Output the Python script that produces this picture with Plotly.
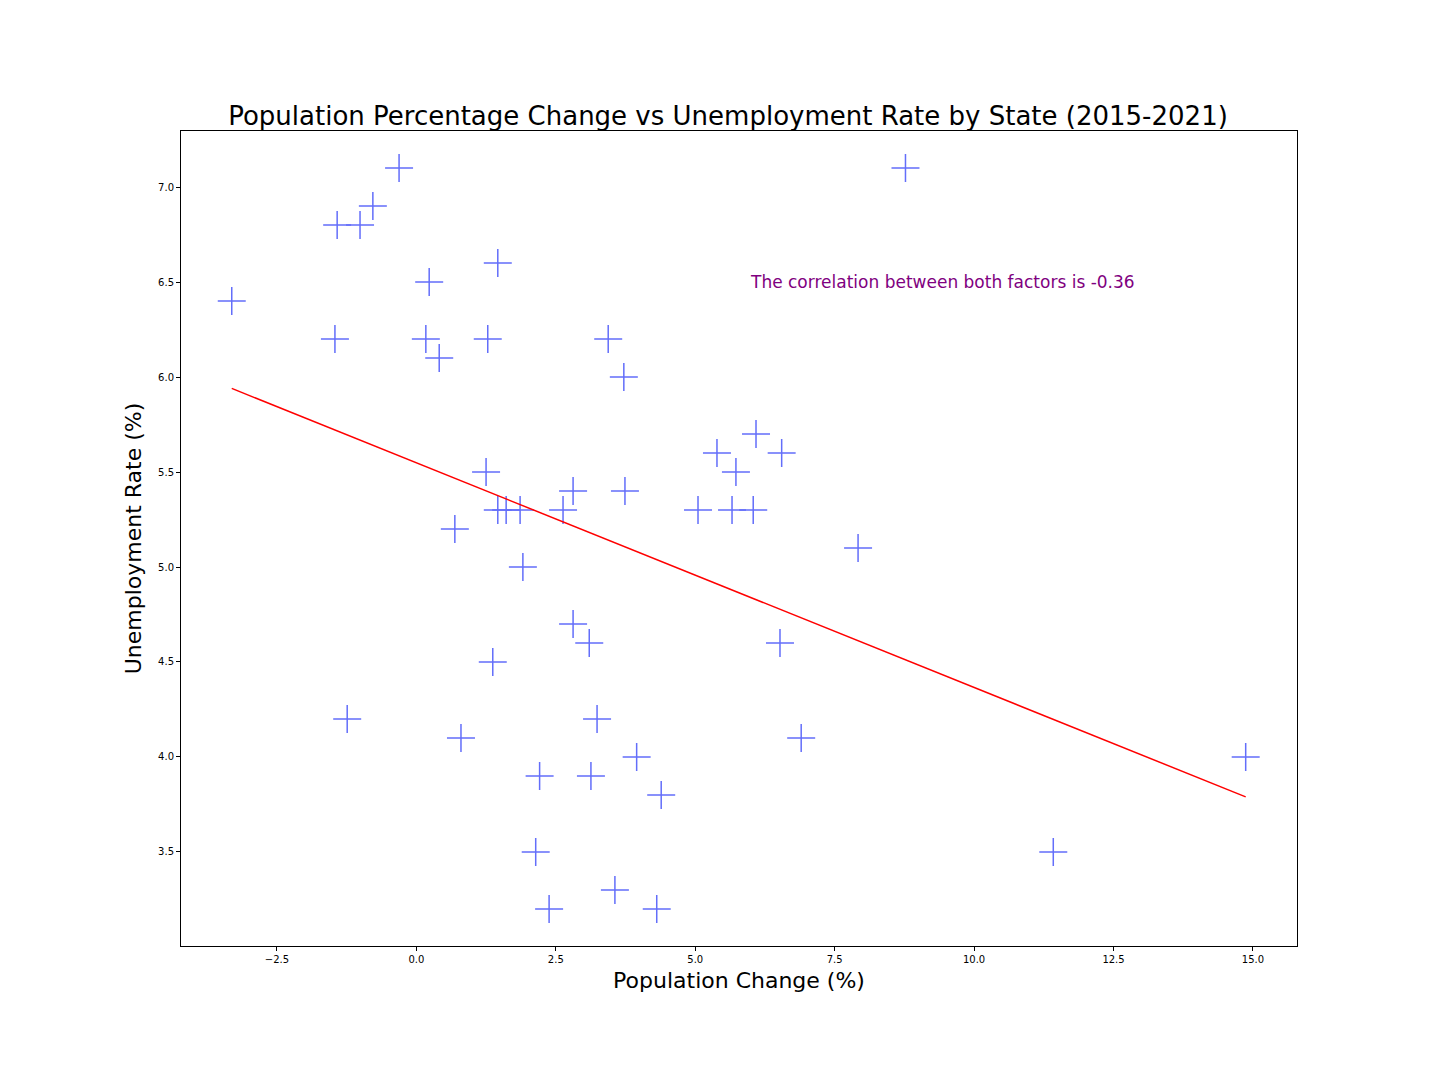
import plotly.graph_objects as go

# population change (%) and unemployment rate (%) by state
pop_change = [-3.31, -0.31, -0.78, -1.42, -1.01, 1.46, 0.23, -1.46, 0.17, 1.28,
              0.41, 3.44, 3.72, 6.09, 5.39, 6.55, 5.73, 1.25, 2.81, 3.74,
              1.46, 1.61, 1.86, 2.63, 5.05, 5.66, 6.04, 0.69, 7.92, 1.91,
              8.77, 2.81, 3.10, 6.52, 1.37, -1.24, 3.24, 0.80, 6.90, 3.95,
              14.87, 2.21, 3.13, 4.39, 2.14, 11.42, 3.56, 2.38, 4.31]
unemployment = [6.4, 7.1, 6.9, 6.8, 6.8, 6.6, 6.5, 6.2, 6.2, 6.2,
                6.1, 6.2, 6.0, 5.7, 5.6, 5.6, 5.5, 5.5, 5.4, 5.4,
                5.3, 5.3, 5.3, 5.3, 5.3, 5.3, 5.3, 5.2, 5.1, 5.0,
                7.1, 4.7, 4.6, 4.6, 4.5, 4.2, 4.2, 4.1, 4.1, 4.0,
                4.0, 3.9, 3.9, 3.8, 3.5, 3.5, 3.3, 3.2, 3.2]

# regression line endpoints
trend_x = [-3.31, 14.87]
trend_y = [5.94, 3.79]

fig = go.Figure()

fig.add_trace(go.Scatter(
    x=pop_change, y=unemployment, mode="markers",
    marker=dict(symbol="cross-thin-open", size=20,
                line=dict(color="rgba(0,0,255,0.6)", width=1.5)),
    showlegend=False))

fig.add_trace(go.Scatter(
    x=trend_x, y=trend_y, mode="lines",
    line=dict(color="red", width=1.5), showlegend=False))

fig.add_annotation(x=5.95, y=6.5, xanchor="left", yanchor="middle",
                   text="The correlation between both factors is -0.36",
                   showarrow=False, font=dict(size=17, color="purple"))

axis_style = dict(showline=True, linecolor="black", linewidth=1, mirror=True,
                  ticks="outside", ticklen=4, tickcolor="black", showgrid=False,
                  zeroline=False, tickfont=dict(size=10, color="black"))

fig.update_layout(
    width=1440, height=1080,
    plot_bgcolor="white", paper_bgcolor="white",
    font=dict(family="DejaVu Sans", color="black"),
    margin=dict(l=173, r=151, t=123, b=142),
    title=dict(text="Population Percentage Change vs Unemployment Rate by State (2015-2021)",
               x=0.5, xanchor="center", y=0.9, yanchor="middle",
               font=dict(size=26)),
    xaxis=dict(axis_style, range=[-4.22, 15.79], dtick=2.5, tickformat=".1f",
               title=dict(text="Population Change (%)", font=dict(size=22), standoff=8)),
    yaxis=dict(axis_style, range=[3.005, 7.295], dtick=0.5, tickformat=".1f",
               title=dict(text="Unemployment Rate (%)", font=dict(size=22), standoff=10)),
)

fig.write_html("out.html")
